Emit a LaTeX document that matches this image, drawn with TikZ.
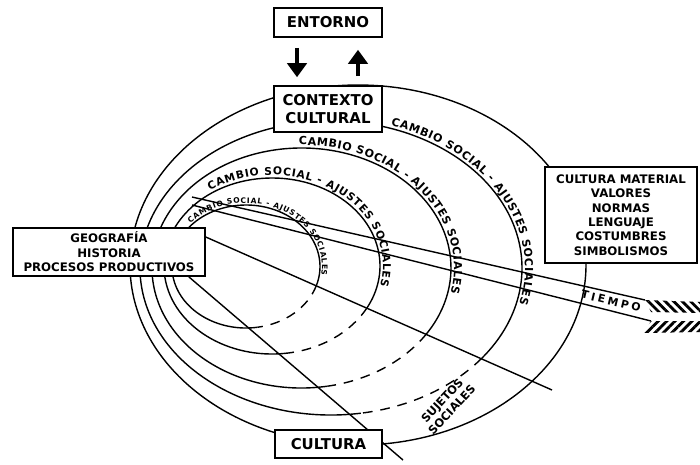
\documentclass[tikz,border=0pt]{standalone}
\usepackage{fontspec}
\setmainfont{DejaVu Sans}
\usetikzlibrary{arrows.meta,backgrounds,decorations.text,patterns.meta}

\tikzset{
  box/.style      = {draw, line width=0.9pt, fill=white, align=center, inner sep=0pt,
                     font=\bfseries\fontsize{8.5}{10.2}\selectfont},
  smallbox/.style = {box, font=\bfseries\fontsize{6.7}{8.2}\selectfont},
  ring/.style     = {line width=0.8pt},
  ringdash/.style = {ring, dash pattern=on 5.5pt off 4.5pt},
  ray/.style      = {line width=0.8pt},
  fat/.style      = {-{Triangle[length=8pt,width=11pt]}, line width=2.2pt},
  lbl/.style      = {font=\bfseries\fontsize{6.5}{7.5}\selectfont, align=center,
                     inner sep=0pt},
  ringlbl/.style  = {decorate, decoration={text along path, text align=fit to path,
                     text={|\bfseries\fontsize{#1}{#1}\selectfont|CAMBIO SOCIAL - AJUSTES SOCIALES}}},
  feather/.style  = {pattern={Lines[angle=#1, distance=3.4pt, line width=1.6pt]}},
}

\begin{document}
\begin{tikzpicture}[x=0.02cm, y=-0.02cm]
  \useasboundingbox (0,0) rectangle (700,464);

  % boxes
  \node[box, minimum width=2.16cm, minimum height=0.58cm] (entorno) at (328,22.5) {ENTORNO};
  \node[box, minimum width=2.16cm, minimum height=0.92cm] (contexto) at (328,109)
      {CONTEXTO\\CULTURAL};
  \node[smallbox, minimum width=3.84cm, minimum height=0.96cm] (geo) at (109,252)
      {GEOGRAFÍA\\HISTORIA\\PROCESOS PRODUCTIVOS};
  \node[smallbox, minimum width=3.04cm, minimum height=1.92cm] (matcult) at (621,215)
      {CULTURA MATERIAL\\VALORES\\NORMAS\\LENGUAJE\\COSTUMBRES\\SIMBOLISMOS};
  \node[box, minimum width=2.14cm, minimum height=0.56cm] (cultura) at (328.5,444) {CULTURA};

  \draw[fat, shorten <=0.2cm, shorten >=0.16cm]
      ([xshift=-0.62cm]entorno.south) -- ([xshift=-0.62cm]contexto.north);
  \draw[fat, shorten <=0.18cm, shorten >=0.24cm]
      ([xshift=0.6cm]contexto.north) -- ([xshift=0.6cm]entorno.south);

  % free ends of the rays and of the time arrow
  \coordinate (aend) at (403,460);
  \coordinate (bend) at (552,390);
  \coordinate (t1) at (192,197);
  \coordinate (t2) at (192,205);
  \coordinate (f1) at (645,300);
  \coordinate (f2) at (651,321);

  \begin{scope}[on background layer]
    \draw[ring] (358,265) ellipse [x radius=228, y radius=180];
    % inner rings: solid, dashed between ray B and ray A
    \foreach \cx/\cy/\rx/\ry/\tb/\ta in {331/268/191/147/38/81,
        301.5/268/149.5/120/33.5/80, 272/266/108/88/28.4/82, 246/266.5/74/61.5/18/81}{
      \pgfmathsetmacro{\tc}{\tb+360}
      \draw[ring] ({\cx+\rx*cos(\ta)},{\cy+\ry*sin(\ta)})
          arc[start angle=\ta, end angle=\tc, x radius=\rx, y radius=\ry];
      \draw[ringdash] ({\cx+\rx*cos(\tb)},{\cy+\ry*sin(\tb)})
          arc[start angle=\tb, end angle=\ta, x radius=\rx, y radius=\ry];
    }
    \draw[ray] ([xshift=-0.34cm]geo.south east) -- (aend);
    \draw[ray] ([yshift=0.3cm]geo.east) -- (bend);
    \draw[ray] (t1) -- (f1);
    \draw[ray] (t2) -- (f2);
  \end{scope}

  % fletching of the time arrow
  \fill[feather=-45] (f1) -- (700,302) -- (700,313) -- (651,312) -- cycle;
  \fill[feather=45] (f2) -- (700,321) -- (700,332) -- (643,333) -- cycle;
  \node[lbl, rotate=-13.5,
        font=\bfseries\fontsize{6.2}{6.5}\selectfont\addfontfeature{LetterSpace=25}]
      (tiempo) at (611,301) {TIEMPO};

  % ring labels
  \path[ringlbl=6.3pt] ({331+194*cos(-72)},{268+150*sin(-72)})
      arc[start angle=-72, end angle=14, x radius=194, y radius=150];
  \path[ringlbl=6.3pt] ({301.5+152.5*cos(-91)},{268+123*sin(-91)})
      arc[start angle=-91, end angle=12, x radius=152.5, y radius=123];
  \path[ringlbl=6.1pt] ({272+111*cos(-124)},{266+91*sin(-124)})
      arc[start angle=-124, end angle=13, x radius=111, y radius=91];
  \path[ringlbl=4.3pt] ({246+76*cos(-137)},{266.5+63.5*sin(-137)})
      arc[start angle=-137, end angle=8, x radius=76, y radius=63.5];

  \node[lbl, rotate=47] (sujetos) at (447,405) {SUJETOS\\SOCIALES};

\end{tikzpicture}
\end{document}
